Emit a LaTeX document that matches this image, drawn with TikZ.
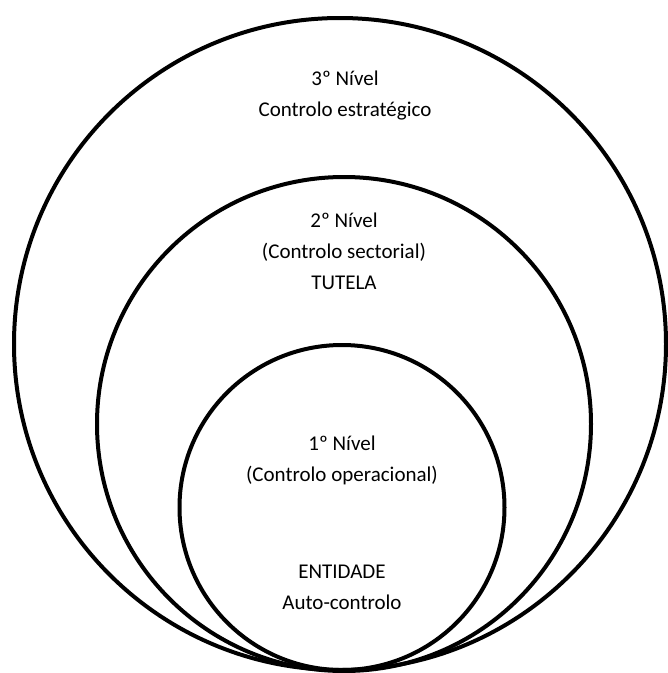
\documentclass[tikz,border=0pt]{standalone}
\usepackage{fontspec}
\setmainfont{Carlito}
\begin{document}
\begin{tikzpicture}[x=1pt,y=-1pt,
  ring/.style={circle,draw=black,line width=4pt,inner sep=0pt,minimum size=#1},
  label/.style={align=center,inner sep=0pt,font=\fontsize{21}{31}\selectfont}]
  \useasboundingbox (0,0) rectangle (668,673);
  % three nested levels, all touching at the bottom
  \node[ring=652pt] (outer)  at (340,344) {};
  \node[ring=494pt] (middle) at (344,424) {};
  \node[ring=325pt] (inner)  at (342,507.5) {};
  % level captions
  \node[label] (l3) at (345,96) {3º Nível\\Controlo estratégico};
  \node[label] (l2) at (344,251) {2º Nível\\(Controlo sectorial)\\TUTELA};
  \node[label] (l1) at (342,460) {1º Nível\\(Controlo operacional)};
  \node[label] (ent) at (342,587) {ENTIDADE\\Auto-controlo};
\end{tikzpicture}
\end{document}
